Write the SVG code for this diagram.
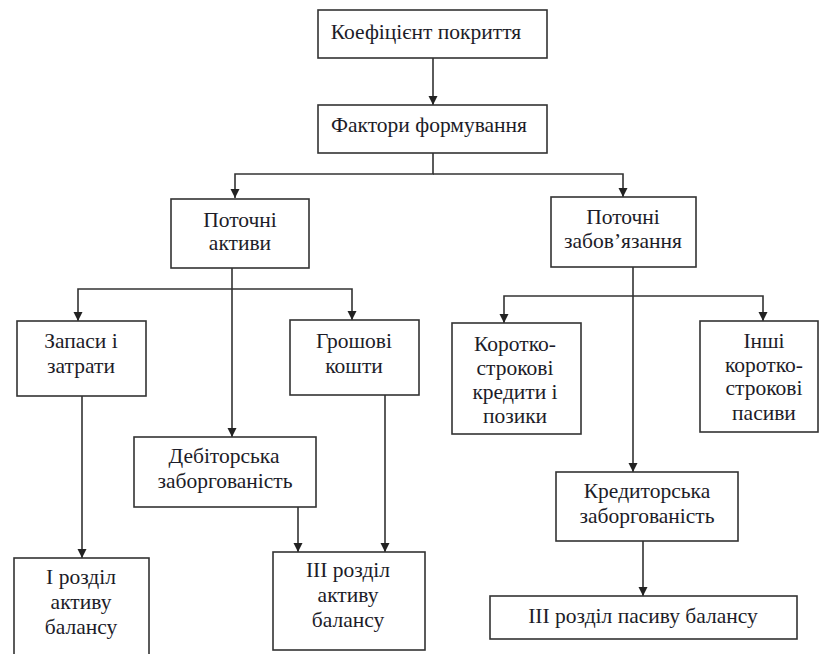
<svg xmlns="http://www.w3.org/2000/svg" width="819" height="654" viewBox="0 0 819 654">
<defs>
<marker id="arr" markerUnits="userSpaceOnUse" markerWidth="10" markerHeight="11" refX="9" refY="4.5" orient="auto">
<path d="M0,0 L9,4.5 L0,9 Z" fill="#222"/>
</marker>
<style>
.box{fill:#fff;stroke:#333;stroke-width:1.6}
.t{font-family:"Liberation Serif","Times New Roman",serif;font-size:21.5px;fill:#1c1c28;text-anchor:middle}
.c{fill:none;stroke:#333;stroke-width:1.6}
</style>
</defs>
<rect width="819" height="654" fill="#fff"/>
<g id="connectors">
<path class="c" d="M433,58 V105" marker-end="url(#arr)"/>
<path class="c" d="M433,153 V174 H235 V198" marker-end="url(#arr)"/>
<path class="c" d="M433,174 H623 V197" marker-end="url(#arr)"/>
<path class="c" d="M232,268 V437" marker-end="url(#arr)"/>
<path class="c" d="M232,289 H78 V321" marker-end="url(#arr)"/>
<path class="c" d="M232,289 H352 V320" marker-end="url(#arr)"/>
<path class="c" d="M633,267 V472" marker-end="url(#arr)"/>
<path class="c" d="M633,296 H504 V323" marker-end="url(#arr)"/>
<path class="c" d="M633,296 H763 V321" marker-end="url(#arr)"/>
<path class="c" d="M82,396 V558" marker-end="url(#arr)"/>
<path class="c" d="M298,507 V552" marker-end="url(#arr)"/>
<path class="c" d="M385,395 V552" marker-end="url(#arr)"/>
<path class="c" d="M643,541 V596" marker-end="url(#arr)"/>
</g>
<g id="n1"><rect class="box" x="318" y="10" width="229" height="48"/><text class="t" x="426" y="39">Коефіцієнт покриття</text></g>
<g id="n2"><rect class="box" x="318" y="105" width="229" height="48"/><text class="t" x="429" y="132">Фактори формування</text></g>
<g id="n3"><rect class="box" x="171" y="199" width="138" height="69"/><text class="t" x="240" y="227">Поточні</text><text class="t" x="240" y="250">активи</text></g>
<g id="n4"><rect class="box" x="551" y="197" width="145" height="70"/><text class="t" x="623" y="224">Поточні</text><text class="t" x="623" y="248">забов’язання</text></g>
<g id="n5"><rect class="box" x="17" y="321" width="129" height="75"/><text class="t" x="81" y="348">Запаси і</text><text class="t" x="81" y="373">затрати</text></g>
<g id="n6"><rect class="box" x="290" y="320" width="129" height="75"/><text class="t" x="354" y="348">Грошові</text><text class="t" x="354" y="373">кошти</text></g>
<g id="n7"><rect class="box" x="134" y="437" width="182" height="70"/><text class="t" x="224" y="463">Дебіторська</text><text class="t" x="225" y="488">заборгованість</text></g>
<g id="n8"><rect class="box" x="14" y="558" width="135" height="110"/><text class="t" x="81" y="584">I розділ</text><text class="t" x="81" y="609">активу</text><text class="t" x="81" y="634">балансу</text></g>
<g id="n9"><rect class="box" x="273" y="552" width="152" height="98"/><text class="t" x="348" y="577">III розділ</text><text class="t" x="348" y="602">активу</text><text class="t" x="348" y="627">балансу</text></g>
<g id="n10"><rect class="box" x="452" y="323" width="129" height="111"/><text class="t" x="515" y="351">Коротко-</text><text class="t" x="515" y="375">строкові</text><text class="t" x="515" y="399">кредити і</text><text class="t" x="515" y="423">позики</text></g>
<g id="n11"><rect class="box" x="700" y="321" width="118" height="111"/><text class="t" x="764" y="348">Інші</text><text class="t" x="764" y="372">коротко-</text><text class="t" x="764" y="395">строкові</text><text class="t" x="764" y="420">пасиви</text></g>
<g id="n12"><rect class="box" x="556" y="472" width="182" height="69"/><text class="t" x="647" y="498">Кредиторська</text><text class="t" x="647" y="523">заборгованість</text></g>
<g id="n13"><rect class="box" x="490" y="596" width="307" height="43"/><text class="t" x="643" y="623">III розділ пасиву балансу</text></g>
</svg>
